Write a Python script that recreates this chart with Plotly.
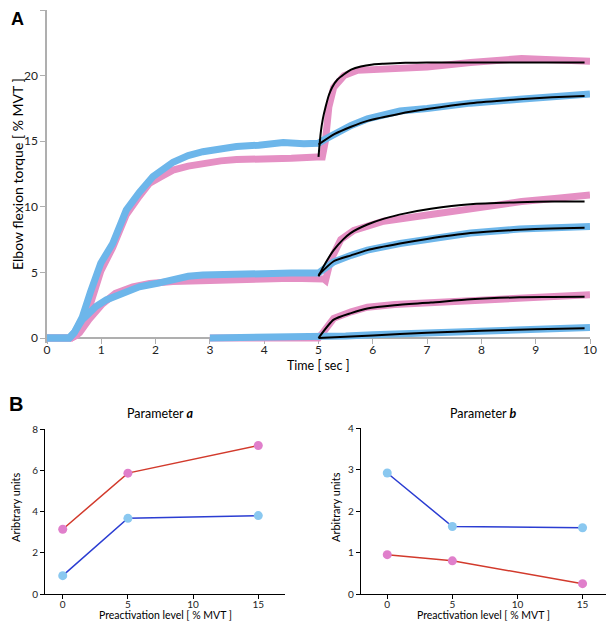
import plotly.graph_objects as go

# ---------------- Panel A data ----------------
t_blue15 = [0, 0.41, 0.5, 0.65, 0.8, 0.99, 1.21, 1.46, 1.70, 1.95, 2.32, 2.6, 2.87, 3.2, 3.49, 3.9, 4.35, 4.73, 5.0,
            5.1, 5.3, 5.6, 5.9, 6.5, 7.0, 7.8, 8.7, 9.5, 10.0]
v_blue15 = [0, 0, 0.4, 1.6, 3.5, 5.7, 7.2, 9.75, 11.1, 12.3, 13.4, 13.9, 14.2, 14.4, 14.6, 14.7, 14.9, 14.8, 14.85,
            15.1, 15.6, 16.2, 16.7, 17.3, 17.5, 17.9, 18.2, 18.5, 18.6]

t_pink15 = [0, 0.45, 0.55, 0.65, 0.8, 0.99, 1.21, 1.46, 1.7, 1.89, 2.1, 2.32, 2.6, 2.87, 3.2, 3.49, 4.0, 4.5, 4.97,
            5.07, 5.13, 5.19, 5.28, 5.47, 5.72, 6.2, 7.0, 7.8, 8.3, 8.74, 9.3, 10.0]
v_pink15 = [0, 0, 0.2, 0.86, 2.6, 5.1, 6.9, 9.4, 10.8, 11.8, 12.3, 12.8, 13.1, 13.3, 13.5, 13.6, 13.6, 13.7, 13.8,
            13.8, 15.1, 17.6, 19.1, 20.0, 20.4, 20.5, 20.65, 21.0, 21.2, 21.3, 21.2, 21.1]

t_blue5 = [0, 0.41, 0.5, 0.65, 0.78, 0.9, 1.09, 1.33, 1.70, 2.01, 2.32, 2.6, 2.87, 3.49, 4.0, 4.5, 5.0,
           5.1, 5.28, 5.6, 5.9, 6.5, 7.0, 7.8, 8.7, 9.5, 10.0]
v_blue5 = [0, 0, 0.4, 1.4, 1.9, 2.4, 2.9, 3.3, 3.9, 4.15, 4.5, 4.7, 4.8, 4.9, 4.9, 4.95, 4.95,
           5.2, 5.8, 6.3, 6.7, 7.2, 7.5, 8.0, 8.3, 8.45, 8.5]

t_pink5 = [0, 0.45, 0.6, 0.77, 1.02, 1.26, 1.58, 1.89, 2.32, 2.87, 3.49, 4.0, 4.5, 5.0,
           5.1, 5.13, 5.22, 5.41, 5.65, 6.2, 7.07, 7.81, 8.74, 9.4, 10.0]
v_pink5 = [0, 0, 0.4, 1.4, 2.6, 3.4, 3.9, 4.15, 4.3, 4.4, 4.5, 4.5, 4.55, 4.55,
           4.5, 4.4, 5.9, 7.5, 8.2, 8.9, 9.4, 9.9, 10.4, 10.65, 10.9]

t_blue0 = [3.0, 5.0, 5.5, 6.0, 6.9, 7.8, 8.7, 9.4, 10.0]
v_blue0 = [0, 0.05, 0.15, 0.25, 0.35, 0.5, 0.6, 0.7, 0.8]

t_pink0 = [3.0, 5.0, 5.1, 5.28, 5.6, 5.9, 6.4, 7.07, 7.81, 8.74, 9.4, 10.0]
v_pink0 = [0, 0, 0.5, 1.5, 2.0, 2.35, 2.55, 2.7, 2.9, 3.15, 3.25, 3.3]

# fitted curves (black)
t_fit_pink15 = [5.0, 5.04, 5.08, 5.13, 5.19, 5.25, 5.35, 5.47, 5.6, 5.78, 6.0, 6.2, 6.6, 7.0, 8.0, 9.0, 9.9]
v_fit_pink15 = [13.8, 15.6, 16.7, 17.6, 18.5, 19.1, 19.7, 20.1, 20.45, 20.7, 20.85, 20.9, 20.97, 21.0, 21.0, 21.0, 21.0]
t_fit_blue15 = [5.0, 5.3, 5.6, 5.9, 6.5, 7.0, 7.8, 8.7, 9.3, 9.9]
v_fit_blue15 = [14.75, 15.55, 16.1, 16.55, 17.1, 17.45, 17.9, 18.2, 18.35, 18.45]
t_fit_pink5 = [5.0, 5.1, 5.28, 5.45, 5.59, 5.9, 6.21, 6.6, 7.07, 7.8, 8.7, 9.3, 9.9]
v_fit_pink5 = [4.7, 5.5, 6.7, 7.5, 8.0, 8.65, 9.1, 9.5, 9.85, 10.2, 10.35, 10.4, 10.4]
t_fit_blue5 = [5.0, 5.28, 5.6, 5.9, 6.5, 7.0, 7.8, 8.7, 9.3, 9.9]
v_fit_blue5 = [4.8, 5.85, 6.3, 6.7, 7.2, 7.55, 8.0, 8.25, 8.35, 8.4]
t_fit_pink0 = [5.0, 5.28, 5.6, 5.9, 6.4, 7.07, 7.8, 8.7, 9.3, 9.9]
v_fit_pink0 = [0, 1.4, 1.9, 2.25, 2.5, 2.7, 2.95, 3.1, 3.12, 3.15]
t_fit_blue0 = [5.0, 6.0, 7.0, 8.0, 9.0, 9.9]
v_fit_blue0 = [0.0, 0.2, 0.4, 0.55, 0.67, 0.75]

# ---------------- Panel B data ----------------
preact = [0, 5, 15]
a_pink = [3.14, 5.86, 7.2]
a_blue = [0.89, 3.67, 3.80]
b_blue = [2.92, 1.63, 1.60]
b_pink = [0.95, 0.80, 0.25]

x_ticks_A = list(range(0, 11))
y_ticks_A = [0, 5, 10, 15, 20, 25]
x_ticks_B = [0, 5, 10, 15]
y_ticks_Ba = [0, 2, 4, 6, 8]
y_ticks_Bb = [0, 1, 2, 3, 4]

# ---------------- styling ----------------
OFF = 8                     # default page body margin
W, H = 614 - 2 * OFF, 629 - 2 * OFF
PINK = "#E590C4"
BLUE = "#6DB6EA"
FONT = "Lato"

def px(x):
    return min(1.0, max(0.0, (x - OFF) / W))

def py(y):
    return min(1.0, max(0.0, 1 - (y - OFF) / H))

def pxa(x):
    return (x - OFF) / W

def pya(y):
    return 1 - (y - OFF) / H

fig = go.Figure()

data_traces = [
    (t_pink15, v_pink15, PINK), (t_pink5, v_pink5, PINK), (t_pink0, v_pink0, PINK),
    (t_blue15, v_blue15, BLUE), (t_blue5, v_blue5, BLUE), (t_blue0, v_blue0, BLUE),
]
for t, v, c in data_traces:
    fig.add_trace(go.Scatter(x=t, y=v, mode="lines", line=dict(color=c, width=7),
                             xaxis="x", yaxis="y", showlegend=False, hoverinfo="skip"))

fit_traces = [
    (t_fit_pink15, v_fit_pink15), (t_fit_blue15, v_fit_blue15),
    (t_fit_pink5, v_fit_pink5), (t_fit_blue5, v_fit_blue5),
    (t_fit_pink0, v_fit_pink0), (t_fit_blue0, v_fit_blue0),
]
for t, v in fit_traces:
    fig.add_trace(go.Scatter(x=t, y=v, mode="lines", line=dict(color="black", width=2, shape="spline", smoothing=0.6),
                             xaxis="x", yaxis="y", showlegend=False, hoverinfo="skip"))

RED_LINE = "#D23A2C"
BLUE_LINE = "#2B3DD2"
M_PINK = "#E07FCB"
M_BLUE = "#8AC8F0"

def add_b(xv, yv, line_c, mk_c, xa, ya):
    fig.add_trace(go.Scatter(x=xv, y=yv, mode="lines+markers",
                             line=dict(color=line_c, width=1.5),
                             marker=dict(color=mk_c, size=9),
                             xaxis=xa, yaxis=ya, showlegend=False, cliponaxis=False))

add_b(preact, a_pink, RED_LINE, M_PINK, "x2", "y2")
add_b(preact, a_blue, BLUE_LINE, M_BLUE, "x2", "y2")
add_b(preact, b_blue, BLUE_LINE, M_BLUE, "x3", "y3")
add_b(preact, b_pink, RED_LINE, M_PINK, "x3", "y3")

GRAY = "#AFAFAF"
tickfontA = dict(family=FONT, size=12, color="#222")
tickfontB = dict(family=FONT, size=10, color="#222")

common = dict(automargin=False, showgrid=False, zeroline=False)

fig.update_layout(
    width=W, height=H, autosize=False,
    margin=dict(l=0, r=0, t=0, b=0),
    plot_bgcolor="white", paper_bgcolor="white",
    font=dict(family=FONT, color="#222"),
    xaxis=dict(domain=[px(47), px(590)], range=[0, 10], tickvals=x_ticks_A,
               anchor="free", position=py(338), layer="below traces",
               showline=True, linecolor=GRAY, linewidth=1.5, ticks="outside", ticklen=5,
               tickcolor=GRAY, tickfont=tickfontA, ticklabelstandoff=-4, **common),
    yaxis=dict(domain=[py(342.6), py(10)], range=[-0.35, 25], tickvals=y_ticks_A,
               anchor="x", showline=True, linecolor=GRAY, linewidth=1.5, ticks="outside", ticklen=5,
               tickcolor=GRAY, tickfont=tickfontA, layer="below traces", **common),
    xaxis2=dict(domain=[px(45), px(285)], range=[-1.36, 17.05], tickvals=x_ticks_B, anchor="y2",
                showline=True, linecolor="black", linewidth=1, ticks="outside", ticklen=4, tickcolor="black",
                tickfont=tickfontB, ticklabelstandoff=-3, **common),
    yaxis2=dict(domain=[py(594), py(429)], range=[0, 8], tickvals=y_ticks_Ba, anchor="x2",
                showline=True, linecolor="black", linewidth=1, ticks="outside", ticklen=4, tickcolor="black",
                tickfont=tickfontB, **common),
    xaxis3=dict(domain=[px(360.7), px(606)], range=[-2.04, 16.8], tickvals=x_ticks_B, anchor="y3",
                showline=True, linecolor="black", linewidth=1, ticks="outside", ticklen=4, tickcolor="black",
                tickfont=tickfontB, ticklabelstandoff=-3, **common),
    yaxis3=dict(domain=[py(594), py(428.3)], range=[0, 4], tickvals=y_ticks_Bb, anchor="x3",
                showline=True, linecolor="black", linewidth=1, ticks="outside", ticklen=4, tickcolor="black",
                tickfont=tickfontB, **common),
)

def ann(text, x, y, size, rot=0, bold=False, family=FONT, xanchor="center"):
    fig.add_annotation(text=("<b>%s</b>" % text) if bold else text, x=pxa(x), y=pya(y),
                       xref="paper", yref="paper", showarrow=False, textangle=rot,
                       xanchor=xanchor, yanchor="middle",
                       font=dict(family=family, size=size, color="black"))

ann("A", 17, 19, 18, bold=True, family="Liberation Sans")
ann("B", 16, 404, 20, bold=True, family="Liberation Sans")
ann("Elbow flexion torque [ % MVT ]", 18, 174, 14, rot=-90)
ann("Time [ sec ]", 318, 365, 12.5)
ann("Parameter <b><i>a</i></b>", 160, 413, 12.5)
ann("Parameter <b><i>b</i></b>", 483, 413, 12.5)
ann("Aribtrary units", 15, 507, 11, rot=-90)
ann("Arbitrary units", 335, 507, 11, rot=-90)
ann("Preactivation level [ % MVT ]", 165, 615, 10.5)
ann("Preactivation level [ % MVT ]", 483, 615, 10.5)

fig.write_html("out.html")
